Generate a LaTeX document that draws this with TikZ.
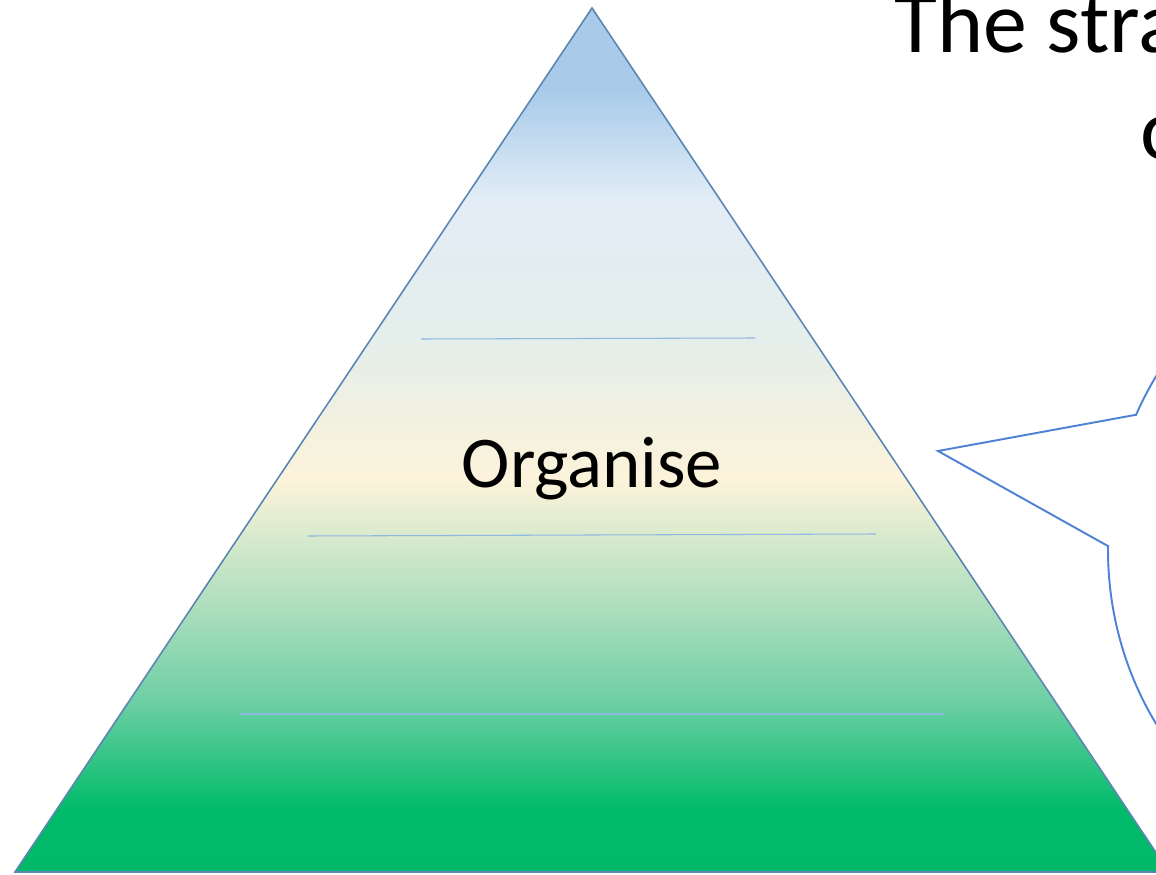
\documentclass[tikz,border=0pt]{standalone}
\usepackage{fontspec}
\setmainfont{Carlito}
\usetikzlibrary{calc}

\definecolor{edgeblue}{HTML}{5A86B4}
\definecolor{tierblue}{HTML}{8DB8E0}
\definecolor{callblue}{HTML}{4F81D6}
\definecolor{shadeA}{RGB}{0,184,104}
\definecolor{shadeB}{RGB}{0,187,106}
\definecolor{shadeC}{RGB}{111,207,165}
\definecolor{shadeD}{RGB}{177,223,191}
\definecolor{shadeE}{RGB}{252,243,218}
\definecolor{shadeF}{RGB}{228,238,234}
\definecolor{shadeG}{RGB}{226,237,247}
\definecolor{shadeH}{RGB}{169,203,233}

\pgfdeclareverticalshading{pyramid}{100bp}{%
  color(0bp)=(shadeA);
  color(25bp)=(shadeA);
  color(28.6bp)=(shadeB);
  color(35bp)=(shadeC);
  color(40.7bp)=(shadeD);
  color(47.7bp)=(shadeE);
  color(55.8bp)=(shadeF);
  color(63.9bp)=(shadeG);
  color(70.2bp)=(shadeH);
  color(75bp)=(shadeH);
  color(100bp)=(shadeH)}

\tikzset{pyramid body/.style={shading=pyramid,draw=edgeblue,line width=0.9pt,line join=miter},
tier line/.style={draw=tierblue,line width=0.6pt},
tier label/.style={font=\fontsize{41.5}{48}\selectfont,anchor=base,inner sep=0pt},
title line/.style={font=\fontsize{50}{58}\selectfont,anchor=base west,inner sep=0pt},
callout edge/.style={draw=callblue,line width=1.1pt,line join=miter}}

\begin{document}
\begin{tikzpicture}
\useasboundingbox (0,0) rectangle (23.12,17.48);
\clip (0,0) rectangle (23.12,17.48);

%% Coordinates of the pyramid.
\coordinate (apex) at (11.840,17.320);
\coordinate (baseL) at (0.300,0.040);
\coordinate (baseR) at (23.380,0.040);
\coordinate (t1l) at (8.420,10.700);
\coordinate (t1r) at (15.100,10.720);
\coordinate (t2l) at (6.160,6.760);
\coordinate (t2r) at (17.520,6.800);
\coordinate (t3l) at (4.780,3.200);
\coordinate (t3r) at (18.900,3.200);

%% Coordinates of the callout.
\coordinate (cc) at (28.160,6.480);
\coordinate (tip) at (18.760,8.460);
\coordinate (w1) at ($(cc)+(155:6 and 6.4)$);
\coordinate (w2) at ($(cc)+(179.3:6 and 6.4)$);
\coordinate (wa) at ($(cc)+(115:6 and 6.4)$);

%% pyramid
\path [pyramid body] (apex) -- (baseR) -- (baseL) -- cycle;

%% tier lines
\draw [tier line] (t1l) -- (t1r);
\draw [tier line] (t2l) -- (t2r);
\draw [tier line] (t3l) -- (t3r);

%% callout
\draw [callout edge] (wa) arc[start angle=115,end angle=155,x radius=6,y radius=6.4]
  -- (tip) -- (w2) arc[start angle=179.3,end angle=260,x radius=6,y radius=6.4];

%% labels
\node [tier label] (organise) at (11.840,7.740) {Organise};
\node [title line] (title1) at (17.880,16.420) {The stra};
\node [title line] (title2) at (22.800,14.280) {o};

\end{tikzpicture}
\end{document}
